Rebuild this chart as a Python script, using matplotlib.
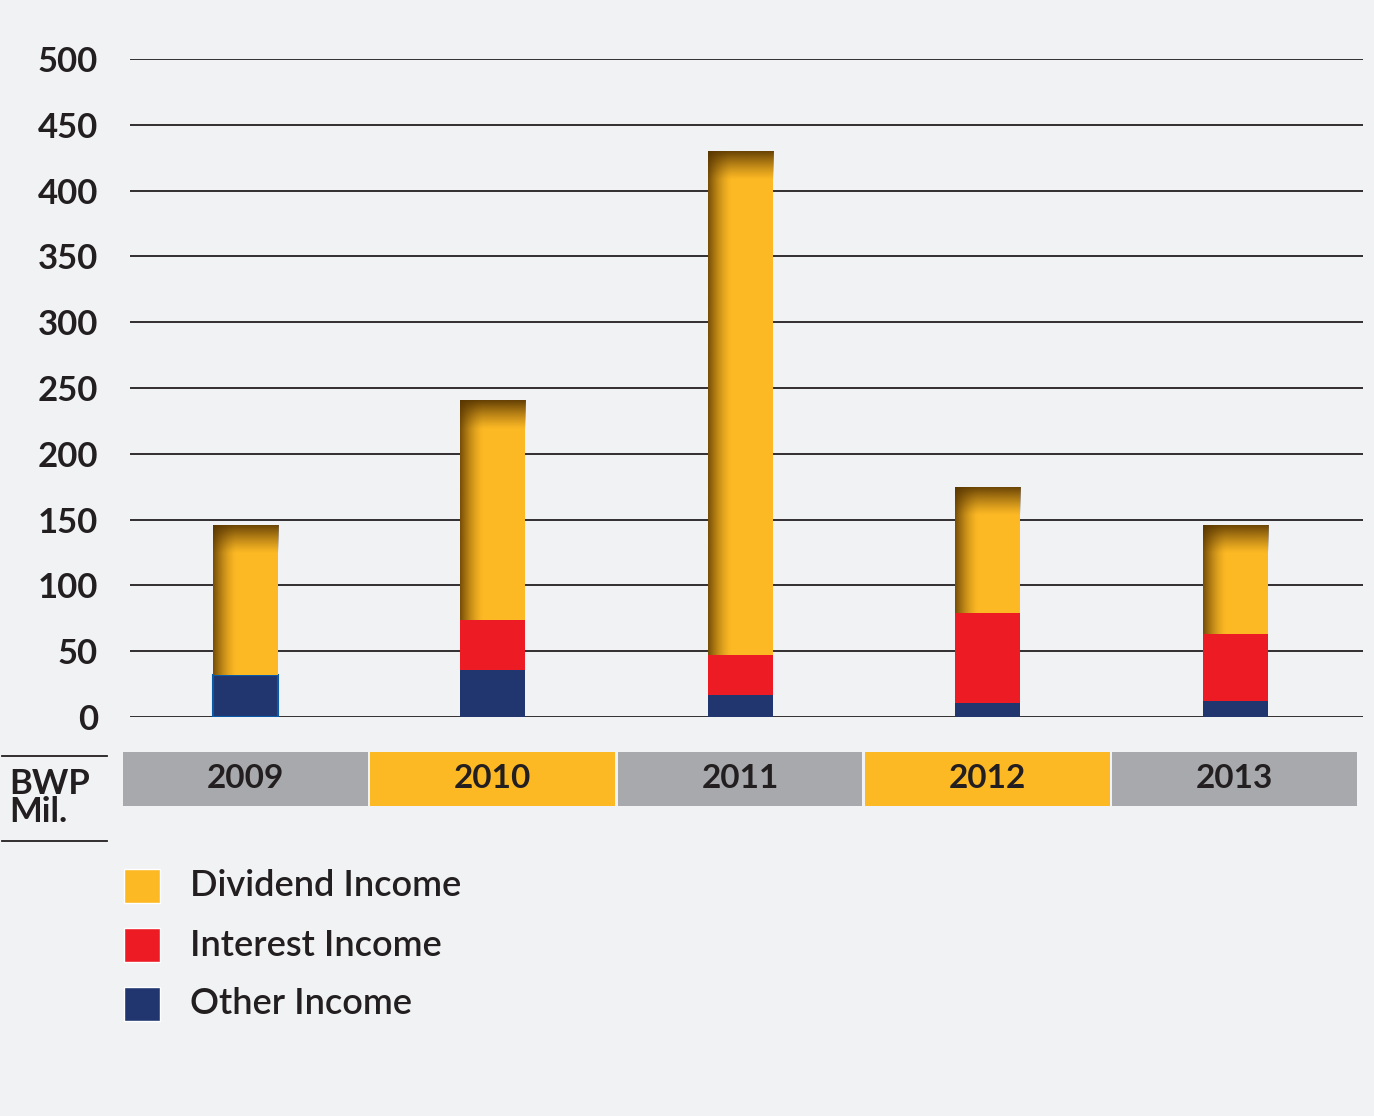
import numpy as np
import matplotlib.pyplot as plt
from matplotlib.patches import Rectangle

years = ["2009", "2010", "2011", "2012", "2013"]
other = [32, 36, 17, 11, 12]
interest = [0, 38, 30, 68, 51]
dividend = [114, 167, 383, 96, 83]
yticks = [0, 50, 100, 150, 200, 250, 300, 350, 400, 450, 500]
legend_labels = ["Dividend Income", "Interest Income", "Other Income"]

BG = "#f1f2f4"
YEL = "#fdb924"
RED = "#ed1c24"
NAVY = "#21366f"
GREY = "#a7a9ac"
INK = "#231f20"

plt.rcParams['font.family'] = ['Lato', 'DejaVu Sans']

fig = plt.figure(figsize=(13.74, 11.16), dpi=100)
fig.patch.set_facecolor(BG)

W, H = 1374.0, 1116.0
ax = fig.add_axes([130 / W, 1 - 717 / H, (1363 - 130) / W, (717 - 59) / H])
ax.set_facecolor(BG)

x = np.arange(len(years))
bw = 0.263
b_other = ax.bar(x, other, bw, color=NAVY, zorder=3)
b_int = ax.bar(x, interest, bw, bottom=other, color=RED, zorder=3)
bottoms = np.array(other) + np.array(interest)
b_div = ax.bar(x, dividend, bw, bottom=bottoms, color=YEL, zorder=3)
# blue outline on the 2009 "other" segment
b_other[0].set_edgecolor("#0a5aa8")
b_other[0].set_linewidth(1.5)

# dark shading at top and left of the dividend bars
shade = np.array([0.33, 0.2, 0.0])
for p in b_div:
    x0, y0, w, h = p.get_x(), p.get_y(), p.get_width(), p.get_height()
    ny, nx = 300, 120
    yy = np.linspace(1, 0, ny)[:, None] * h
    xx = np.linspace(0, 1, nx)[None, :]
    dist_top = h - yy
    a_top = np.clip(1 - dist_top / 22.0, 0, 1) ** 1.2 * 0.9
    a_left = np.clip(1 - xx / 0.36, 0, 1) ** 1.5 * 0.8
    a = 1 - (1 - a_top) * (1 - a_left)
    img = np.zeros((ny, nx, 4))
    img[..., :3] = shade
    img[..., 3] = a
    im = ax.imshow(img, extent=[x0, x0 + w, y0, y0 + h], aspect='auto',
                   zorder=4, interpolation='bilinear')
    im.set_clip_path(p)

ax.set_xlim(-0.465, 4.517)
ax.set_ylim(0, 500)
ax.set_yticks(yticks)
ax.set_xticks([])
ax.yaxis.grid(True, color=INK, linewidth=1.3)
ax.set_axisbelow(True)
for s in ax.spines.values():
    s.set_visible(False)
ax.tick_params(axis='y', length=0, pad=23, labelsize=25, colors=INK)
for lab in ax.get_yticklabels():
    lab.set_fontweight('bold')

# year boxes
ax2 = fig.add_axes([122 / W, 1 - 806 / H, (1358 - 122) / W, (806 - 752) / H])
ax2.set_facecolor(BG)
box_colors = [GREY, YEL, GREY, YEL, GREY]
ax2.bar(x, [1] * len(years), 0.99, color=box_colors)
for i, yr in enumerate(years):
    ax2.text(i, 0.5, yr, ha='center', va='center', fontsize=24,
             fontweight='bold', color=INK)
ax2.set_xlim(-0.5, 4.5)
ax2.set_ylim(0, 1)
ax2.axis('off')

# unit label
fig.text(9 / W, 1 - 798 / H, "BWP\nMil.", fontsize=25, fontweight='bold',
         color=INK, ha='left', va='center', linespacing=0.88)
fig.add_artist(plt.Line2D([2 / W, 107 / W], [1 - 756 / H, 1 - 756 / H],
                          color=INK, lw=1.3))
fig.add_artist(plt.Line2D([2 / W, 107 / W], [1 - 841 / H, 1 - 841 / H],
                          color=INK, lw=1.3))

# legend
leg_colors = [YEL, RED, NAVY]
for i, (lab, c) in enumerate(zip(legend_labels, leg_colors)):
    yc = 886 + i * 59
    fig.add_artist(Rectangle((124 / W, 1 - (yc + 17) / H), 36 / W, 34 / H,
                             facecolor=c, edgecolor='white', lw=1,
                             transform=fig.transFigure))
    fig.text(190 / W, 1 - yc / H, lab, fontsize=26, color=INK,
             ha='left', va='center', fontweight='semibold')

fig.savefig("out.png", dpi=100, facecolor=BG)
